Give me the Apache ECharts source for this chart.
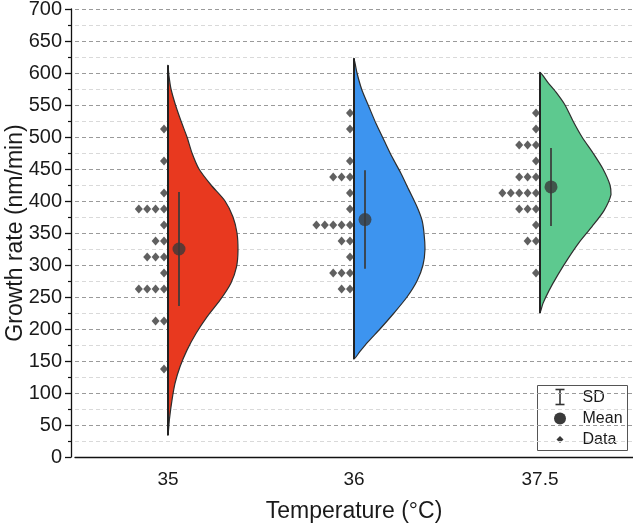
<!DOCTYPE html>
<html><head><meta charset="utf-8">
<script src="https://cdn.jsdelivr.net/npm/echarts@6/dist/echarts.min.js"></script>
<style>html,body{margin:0;padding:0;background:#fff}#c{width:633px;height:528px}</style>
</head><body><div id="c"></div>
<script>
// ---- data ----
const categories = ['35', '36', '37.5'];
const data35 = [512.5, 462.5, 412.5, 387.5, 387.5, 387.5, 387.5, 362.5, 337.5, 337.5, 312.5, 312.5, 312.5, 287.5, 262.5, 262.5, 262.5, 262.5, 212.5, 212.5, 137.5];
const data36 = [537.5, 512.5, 462.5, 437.5, 437.5, 437.5, 412.5, 387.5, 362.5, 362.5, 362.5, 362.5, 362.5, 337.5, 337.5, 312.5, 287.5, 287.5, 287.5, 262.5, 262.5];
const data375 = [537.5, 512.5, 487.5, 487.5, 487.5, 462.5, 437.5, 437.5, 437.5, 412.5, 412.5, 412.5, 412.5, 412.5, 387.5, 387.5, 387.5, 362.5, 337.5, 337.5, 287.5];
const means = [325, 371, 422];
const sds = [89, 77, 61];
// violin outlines: [growth rate, relative density]
const violin35 = [[34,0],[60,1.5],[89,4],[115,7],[141,12],[167,19],[193,28],[219,39],[245,52],[272,63],[297,68.5],[323,70],[350,69],[375,65],[400,57],[425,43],[450,31],[475,24],[500,19],[525,13],[550,7.5],[575,3],[595,1],[612,0]];
const violin36 = [[153,0],[165,6],[180,14],[200,26],[225,40],[250,53],[275,63],[300,69],[325,71],[350,70],[370,68],[391,63],[417,55],[443,47],[469,38],[495,30],[521,22],[547,15],[573,8],[600,3],[623,0]];
const violin375 = [[225,0],[240,3],[260,9],[285,18],[310,28],[335,39],[360,52],[385,64],[410,71],[425,70],[450,63],[475,53],[500,42],[525,33],[550,25],[570,16],[585,8],[601,0]];

const violins = [violin35, violin36, violin375];
const dotSets = [data35, data36, data375];
const colors = ['#E8391F', '#3D94EF', '#5DC98F'];
const FONT = "'Liberation Sans', Arial, Helvetica, sans-serif";
const DENS_SCALE = 1 / 186;   // band fraction per density unit
const DOT_GAP0 = 4, DOT_GAP = 8.4, MEAN_SHIFT = 11;

function stackDots(vals, cat) {
  const seen = {};
  return vals.map(v => {
    const k = seen[v] || 0; seen[v] = k + 1;
    return { value: [cat, v], symbolOffset: [-(DOT_GAP0 + k * DOT_GAP), 0] };
  });
}
let dotData = [];
dotSets.forEach((s, i) => { dotData = dotData.concat(stackDots(s, i)); });

const violinData = violins.map((p, i) => [i, p[0][0], p[p.length - 1][0]]);

const chart = echarts.init(document.getElementById('c'), null, { renderer: 'canvas' });
const option = {
  animation: false,
  backgroundColor: '#fff',
  grid: { left: 75, right: 0, top: 9, bottom: 71, containLabel: false, outerBoundsMode: 'none' },
  xAxis: {
    type: 'category', data: categories, boundaryGap: true,
    name: 'Temperature (°C)', nameLocation: 'middle', nameGap: 43, nameMoveOverlap: false,
    nameTextStyle: { fontFamily: FONT, fontSize: 23, color: '#1a1a1a' },
    axisLine: { lineStyle: { color: '#111', width: 1.3 } },
    axisTick: { alignWithLabel: true, inside: false, length: 8, lineStyle: { color: '#111', width: 1.3 } },
    axisLabel: { fontFamily: FONT, fontSize: 19, color: '#1a1a1a', margin: 13 },
    splitLine: { show: false }
  },
  yAxis: {
    type: 'value', min: 0, max: 700, interval: 50, offset: 4,
    name: 'Growth rate (nm/min)', nameLocation: 'middle', nameGap: 44, nameRotate: 90, nameMoveOverlap: false,
    nameTextStyle: { fontFamily: FONT, fontSize: 23, color: '#1a1a1a' },
    axisLine: { show: true, lineStyle: { color: '#111', width: 1.3 } },
    axisTick: { show: true, inside: false, length: 6, lineStyle: { color: '#111', width: 1.3 } },
    minorTick: { show: true, splitNumber: 2, length: 3, lineStyle: { color: '#111', width: 1.2 } },
    axisLabel: { fontFamily: FONT, fontSize: 20, color: '#1a1a1a', margin: 9 },
    splitLine: { show: true, lineStyle: { color: '#9a9a9a', type: [4, 3], width: 1 } },
    minorSplitLine: { show: true, lineStyle: { color: '#d9d9d9', type: [4, 3], width: 1 } }
  },
  series: [
    {
      type: 'custom', name: 'Violin', z: 2,
      data: violinData, encode: { x: 0, y: [1, 2] },
      renderItem: function (params, api) {
        const i = api.value(0);
        const prof = violins[i];
        if (!prof) return null;
        const c0 = api.coord([0, 0]), c1 = api.coord([1, 0]);
        const band = Math.abs(c1[0] - c0[0]);
        const pts = [];
        for (let k = 0; k < prof.length; k++) {
          const p = api.coord([i, prof[k][0]]);
          pts.push([p[0] + prof[k][1] * DENS_SCALE * band, p[1]]);
        }
        for (let k = prof.length - 2; k >= 1; k--) {
          const p = api.coord([i, prof[k][0]]);
          pts.push([p[0], p[1]]);
        }
        const top = api.coord([i, prof[prof.length - 1][0]]);
        const bot = api.coord([i, prof[0][0]]);
        return {
          type: 'group',
          children: [
            { type: 'polygon',
              shape: { points: pts, smooth: 0.25, smoothConstraint: [[top[0], top[1]], [bot[0], bot[1]]] },
              style: { fill: colors[i], stroke: '#2e2e2e', lineWidth: 1.2 } },
            { type: 'line', shape: { x1: top[0], y1: top[1], x2: bot[0], y2: bot[1] },
              style: { stroke: '#222', lineWidth: 2 } }
          ]
        };
      }
    },
    {
      type: 'scatter', name: 'Data', z: 3,
      symbol: 'diamond', symbolSize: [8, 9],
      itemStyle: { color: '#383838' },
      data: dotData
    },
    {
      type: 'custom', name: 'SD', z: 4,
      data: means.map((m, i) => [i, m - sds[i], m + sds[i]]), encode: { x: 0, y: [1, 2] },
      renderItem: function (params, api) {
        const lo = api.coord([api.value(0), api.value(1)]);
        const hi = api.coord([api.value(0), api.value(2)]);
        return { type: 'line', shape: { x1: lo[0] + MEAN_SHIFT, y1: lo[1], x2: hi[0] + MEAN_SHIFT, y2: hi[1] },
          style: { stroke: '#3a3a3a', lineWidth: 2, opacity: 0.85 } };
      }
    },
    {
      type: 'scatter', name: 'Mean', z: 5,
      symbol: 'circle', symbolSize: 13, symbolOffset: [MEAN_SHIFT, 0],
      itemStyle: { color: '#3a3a3a' },
      data: means.map((m, i) => [i, m])
    }
  ],
  graphic: [
    {
      type: 'group', left: 537, top: 385, z: 100,
      children: [
        { type: 'rect', shape: { x: 0, y: 0, width: 90, height: 65 }, style: { fill: '#fff', stroke: '#555', lineWidth: 1 } },
        { type: 'line', shape: { x1: 22.5, y1: 4, x2: 22.5, y2: 19 }, style: { stroke: '#333', lineWidth: 1.6 } },
        { type: 'line', shape: { x1: 18, y1: 4, x2: 27, y2: 4 }, style: { stroke: '#333', lineWidth: 1.6 } },
        { type: 'line', shape: { x1: 18, y1: 19, x2: 27, y2: 19 }, style: { stroke: '#333', lineWidth: 1.6 } },
        { type: 'text', x: 45, y: 12, style: { text: 'SD', fontFamily: FONT, fontSize: 16, fill: '#1a1a1a', verticalAlign: 'middle' } },
        { type: 'circle', shape: { cx: 22.5, cy: 33, r: 6 }, style: { fill: '#3a3a3a' } },
        { type: 'text', x: 45, y: 33, style: { text: 'Mean', fontFamily: FONT, fontSize: 16, fill: '#1a1a1a', verticalAlign: 'middle' } },
        { type: 'polygon', shape: { points: [[22.5, 50.5], [26, 54], [22.5, 57.5], [19, 54]] }, style: { fill: '#383838' } },
        { type: 'text', x: 45, y: 54, style: { text: 'Data', fontFamily: FONT, fontSize: 16, fill: '#1a1a1a', verticalAlign: 'middle' } }
      ]
    }
  ]
};
chart.setOption(option);
</script>
</body></html>
